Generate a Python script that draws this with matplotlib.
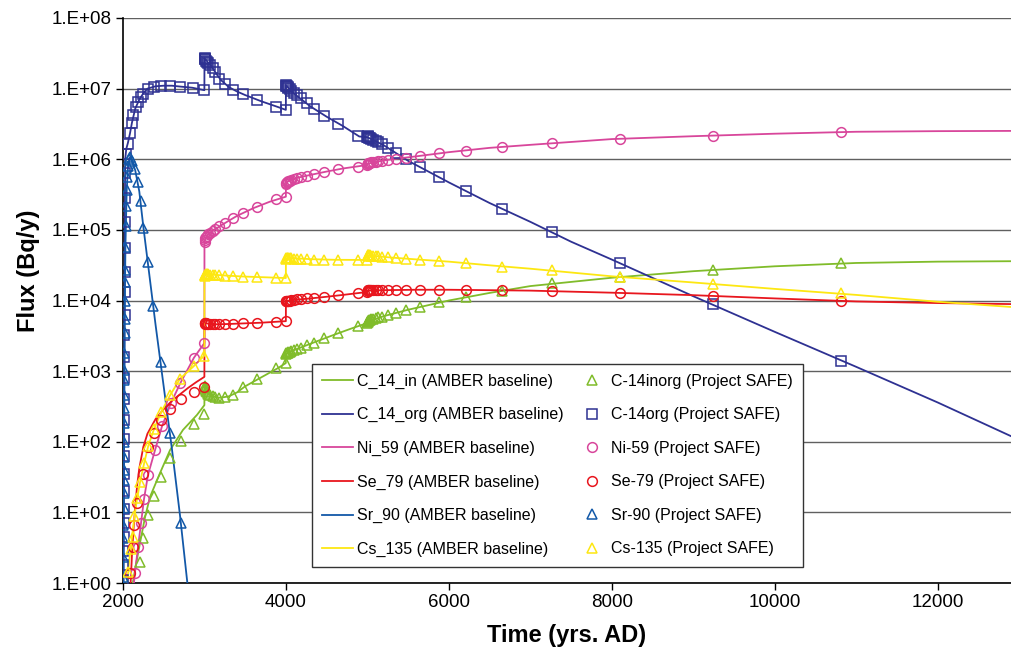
import numpy as np
import matplotlib
matplotlib.use("Agg")
import matplotlib.pyplot as plt
from matplotlib.ticker import FixedLocator, FuncFormatter, NullLocator

plt.rcParams['font.family'] = ['Liberation Sans', 'DejaVu Sans']

# ---------------------------------------------------------------------------
# AMBER baseline (continuous model output), flux in Bq/y
# ---------------------------------------------------------------------------
amb_c14in_t = [2120, 2150, 2209, 2270, 2331, 2454, 2577, 2736, 2908, 2999,
               3000, 3010, 3030, 3060, 3100, 3150, 3200, 3300, 3400, 3500, 3700, 3900, 3999,
               4000, 4100, 4200, 4400, 4600, 4800, 4999,
               5000, 5200, 5500, 6000, 6500, 7000, 8000, 9000, 10000, 11000, 12000, 12900]
amb_c14in_v = [1.0, 1.6, 3.7, 8.5, 16.5, 36, 76, 147, 240, 330,
               640, 570, 505, 465, 440, 425, 420, 440, 500, 610, 820, 1100, 1300,
               1750, 1980, 2200, 2700, 3300, 4000, 4800,
               5000, 6000, 7400, 10000, 12800, 16000, 21000, 26000, 30500, 34000, 35500, 36000]

amb_c14org_t = [2004, 2008, 2012, 2016, 2020, 2024, 2027, 2040, 2060, 2085, 2110, 2150, 2200,
                2250, 2300, 2400, 2500, 2600, 2700, 2850, 2999,
                3000, 3050, 3100, 3150, 3200, 3300, 3400, 3500, 3700, 3900, 3999,
                4000, 4050, 4100, 4200, 4300, 4500, 4700, 4900,
                5000, 5100, 5200, 5500, 6000, 6500, 7000, 7500, 8000, 9000, 10000, 11000, 12000, 12900]
amb_c14org_v = [0.5, 3, 30, 600, 1.2e4, 3e5, 1.0e6, 1.4e6, 1.7e6, 2.3e6, 3.3e6, 5.2e6, 7.0e6,
                8.6e6, 1.0e7, 1.08e7, 1.1e7, 1.1e7, 1.07e7, 1.03e7, 9.5e6,
                2.7e7, 2.3e7, 1.95e7, 1.6e7, 1.33e7, 1.05e7, 9.1e6, 8.1e6, 6.6e6, 5.5e6, 5.0e6,
                1.12e7, 9.6e6, 8.5e6, 6.9e6, 5.6e6, 4.0e6, 2.95e6, 2.1e6,
                2.05e6, 1.8e6, 1.58e6, 9.5e5, 4.7e5, 2.4e5, 1.3e5, 6.8e4, 3.8e4, 1.15e4, 3.6e3,
                1.15e3, 3.6e2, 1.2e2]

amb_ni59_t = [2120, 2147, 2184, 2221, 2258, 2307, 2393, 2479, 2589, 2705, 2871, 2999,
              3000, 3010, 3030, 3070, 3130, 3200, 3300, 3400, 3600, 3800, 3999,
              4000, 4020, 4060, 4150, 4300, 4500, 4700, 4999,
              5000, 5100, 5300, 5600, 6000, 6500, 7000, 8000, 9000, 10000, 11000, 12000, 12900]
amb_ni59_v = [0.7, 1.4, 3.2, 7, 15.5, 34, 76, 166, 355, 680, 1550, 2500,
              6.8e4, 7.5e4, 8.3e4, 9.1e4, 1.02e5, 1.15e5, 1.35e5, 1.58e5, 2.03e5, 2.5e5, 2.95e5,
              4.5e5, 4.8e5, 5.1e5, 5.5e5, 6.0e5, 6.7e5, 7.4e5, 8.3e5,
              8.6e5, 9.2e5, 1.0e6, 1.1e6, 1.26e6, 1.45e6, 1.6e6, 1.93e6, 2.12e6, 2.3e6, 2.45e6,
              2.5e6, 2.52e6]

amb_se79_t = [2090, 2110, 2130, 2150, 2175, 2200, 2250, 2300, 2400, 2500, 2600, 2700, 2800, 2900, 2999,
              3000, 3050, 3150, 3300, 3500, 3700, 3999,
              4000, 4100, 4300, 4500, 4700, 4999,
              5000, 5200, 5600, 6000, 6500, 7000, 8000, 9000, 10000, 11000, 12000, 12900]
amb_se79_v = [0.8, 2.5, 6, 12, 25, 42, 85, 130, 210, 290, 380, 470, 580, 700, 830,
              4800, 4700, 4600, 4650, 4750, 4850, 5100,
              9800, 10200, 10700, 11300, 12000, 13200,
              13800, 14000, 14200, 14200, 14000, 13800, 12900, 11900, 10700, 9700, 9200, 8900]

amb_sr90_t = [2005, 2010, 2015, 2020, 2030, 2045, 2060, 2080, 2100, 2150, 2200, 2250, 2300,
              2400, 2500, 2600, 2700, 2790, 2820]
amb_sr90_v = [1, 30, 400, 5000, 6e4, 3.5e5, 7.5e5, 1.05e6, 1.0e6, 7e5, 3.5e5, 1.1e5, 3.8e4,
              4.5e3, 600, 80, 9, 1, 0.5]

amb_cs135_t = [2050, 2070, 2100, 2130, 2170, 2210, 2260, 2310, 2380, 2470, 2580, 2700, 2870, 2999,
               3000, 3030, 3100, 3300, 3500, 3800, 3999,
               4000, 4030, 4100, 4300, 4600, 4999,
               5000, 5100, 5300, 5600, 6000, 6500, 7000, 8000, 9000, 10000, 11000, 12000, 12900]
amb_cs135_v = [0.9, 1.8, 3.5, 7, 15, 27, 50, 87, 150, 265, 460, 780, 1180, 1660,
               22500, 23500, 23200, 22400, 21800, 21200, 20800,
               38500, 40000, 39700, 38500, 37700, 37500,
               43000, 42500, 40500, 38200, 35500, 31500, 28200, 22000, 18000, 14600, 12000,
               9600, 8100]

# ---------------------------------------------------------------------------
# Project SAFE (discrete output times), flux in Bq/y
# ---------------------------------------------------------------------------
t_late = [3002, 3006, 3012, 3020, 3030, 3045, 3068, 3100, 3130, 3180, 3255, 3350, 3470, 3645, 3880, 3995,
          4002, 4006, 4012, 4020, 4030, 4045, 4068, 4100, 4130, 4180, 4255, 4350, 4470, 4645, 4880, 4995,
          5002, 5006, 5012, 5020, 5030, 5045, 5068, 5100, 5130, 5180, 5255, 5350, 5470, 5645, 5880,
          6210, 6650, 7260, 8100, 9240, 10810]

safe_c14in_t = [2209, 2245, 2307, 2380, 2466, 2577, 2712, 2871, 2995]
safe_c14in_v = [2.0, 4.4, 9.1, 17, 32, 59, 102, 178, 245,
                620, 590, 560, 530, 500, 475, 455, 440, 425, 415, 430, 460, 600, 780, 1100, 1300,
                1750, 1780, 1800, 1820, 1850, 1880, 1920, 1980, 2050, 2150, 2350, 2500, 2950, 3500, 4300, 4800,
                5000, 5100, 5200, 5250, 5300, 5400, 5500, 5600, 5800, 5900, 6300, 6600, 7400, 8100, 9600,
                11200, 13700, 17800, 21500, 27000, 34000]

safe_c14org_t = [2004, 2005, 2006, 2007, 2008, 2009, 2010, 2011, 2012, 2013, 2014, 2015, 2016, 2017,
                 2018, 2019, 2020, 2021, 2022, 2023, 2024, 2025,
                 2035, 2060, 2085, 2110, 2125, 2160, 2185, 2220, 2250, 2305, 2380, 2470, 2580, 2705, 2865, 2995]
safe_c14org_v = [1.1, 1.8, 2.8, 4.5, 7, 11, 20, 35, 63, 110, 200, 400, 800, 1600,
                 3200, 6300, 1.3e4, 2.5e4, 5.6e4, 1.3e5, 2.8e5, 6.3e5,
                 1.2e6, 1.66e6, 2.34e6, 3.3e6, 4.3e6, 5.5e6, 6.5e6, 7.6e6, 8.5e6, 1.0e7, 1.07e7, 1.1e7,
                 1.1e7, 1.07e7, 1.02e7, 9.6e6,
                 2.7e7, 2.65e7, 2.6e7, 2.5e7, 2.4e7, 2.3e7, 2.15e7, 1.95e7, 1.73e7, 1.38e7, 1.17e7, 9.6e6,
                 8.5e6, 6.9e6, 5.5e6, 5.0e6,
                 1.12e7, 1.1e7, 1.08e7, 1.05e7, 1.02e7, 9.8e6, 9.3e6, 8.7e6, 8.1e6, 7.4e6, 6.3e6, 5.1e6,
                 4.1e6, 3.2e6, 2.1e6, 2.05e6,
                 2.1e6, 2.08e6, 2.05e6, 2.02e6, 1.98e6, 1.93e6, 1.87e6, 1.8e6, 1.75e6, 1.62e6, 1.42e6,
                 1.23e6, 1.02e6, 7.8e5, 5.6e5, 3.56e5, 2.0e5, 9.3e4, 3.4e4, 9.0e3, 1.4e3]

safe_ni59_t = [2147, 2184, 2221, 2258, 2307, 2393, 2479, 2589, 2705, 2871, 2995]
safe_ni59_v = [1.4, 3.2, 7, 15.5, 34, 76, 166, 355, 680, 1550, 2500,
               6.8e4, 7.2e4, 7.6e4, 8.0e4, 8.3e4, 8.7e4, 9.1e4, 9.7e4, 1.02e5, 1.13e5, 1.25e5, 1.48e5,
               1.74e5, 2.14e5, 2.7e5, 2.95e5,
               4.5e5, 4.6e5, 4.7e5, 4.8e5, 4.9e5, 5.0e5, 5.15e5, 5.3e5, 5.45e5, 5.6e5, 5.8e5, 6.2e5,
               6.6e5, 7.3e5, 7.8e5, 8.3e5,
               8.6e5, 8.7e5, 8.8e5, 8.85e5, 8.9e5, 9.0e5, 9.1e5, 9.2e5, 9.4e5, 9.6e5, 9.9e5, 1.02e6,
               1.05e6, 1.12e6, 1.23e6, 1.32e6, 1.5e6, 1.7e6, 1.95e6, 2.15e6, 2.45e6]

safe_se79_t = [2086, 2123, 2135, 2172, 2245, 2307, 2380, 2466, 2577, 2712, 2871, 2995]
safe_se79_v = [1.4, 3.2, 6.6, 13.5, 35, 85, 133, 204, 290, 405, 510, 600,
               4700, 4800, 4800, 4750, 4700, 4700, 4650, 4600, 4600, 4600, 4650, 4700, 4750, 4800, 4950, 5100,
               9800, 10000, 10000, 10000, 10000, 10000, 10200, 10300, 10400, 10500, 10700, 11000, 11300,
               12000, 12800, 13200,
               13800, 14000, 14000, 14000, 14100, 14100, 14100, 14200, 14200, 14200, 14200, 14200, 14200,
               14200, 14200, 14200, 14000, 13700, 12800, 11700, 9800]

safe_sr90_t = [2003, 2004, 2005, 2006, 2007, 2008, 2009, 2010, 2011, 2012, 2013, 2014, 2015, 2016,
               2017, 2018, 2019, 2020, 2022, 2024, 2026, 2030, 2035, 2040, 2046, 2054, 2064, 2076,
               2090, 2110, 2147, 2184, 2221, 2245, 2307, 2368, 2466, 2577, 2712]
safe_sr90_v = [1.2, 2.3, 4.4, 6.6, 11.5, 19, 29, 40, 60, 100, 185, 300, 460, 760,
               1050, 1800, 3500, 5400, 1.0e4, 1.8e4, 2.7e4, 5.8e4, 1.15e5, 2.2e5, 3.7e5, 5.6e5, 8.1e5,
               1.0e6, 1.07e6, 9.5e5, 7.2e5, 4.8e5, 2.6e5, 1.07e5, 3.5e4, 8.3e3, 1.35e3, 132, 7.1]

safe_cs135_t = [2061, 2098, 2123, 2135, 2172, 2209, 2258, 2307, 2380, 2466, 2577, 2700, 2871, 2995]
safe_cs135_v = [1.45, 3.0, 4.5, 8.9, 16, 27, 50, 87, 150, 263, 457, 776, 1175, 1660,
                22500, 23000, 23300, 23500, 23500, 23500, 23300, 23200, 23000, 22800, 22500, 22200,
                21800, 21500, 21000, 20800,
                38500, 39500, 40000, 40000, 40000, 40000, 39500, 39000, 38800, 38500, 38200, 38000,
                37800, 37600, 37500, 37500,
                43000, 43500, 43500, 43500, 43500, 43000, 43000, 42500, 42000, 41500, 41000, 40000,
                39000, 38000, 36400, 34000, 30000, 26600, 21300, 17200, 12600]

amber_labels = ["C_14_in (AMBER baseline)", "C_14_org (AMBER baseline)", "Ni_59 (AMBER baseline)",
                "Se_79 (AMBER baseline)", "Sr_90 (AMBER baseline)", "Cs_135 (AMBER baseline)"]
safe_labels = ["C-14inorg (Project SAFE)", "C-14org (Project SAFE)", "Ni-59 (Project SAFE)",
               "Se-79 (Project SAFE)", "Sr-90 (Project SAFE)", "Cs-135 (Project SAFE)"]

y_ticks = [1e0, 1e1, 1e2, 1e3, 1e4, 1e5, 1e6, 1e7, 1e8]
x_ticks = [2000, 4000, 6000, 8000, 10000, 12000]

colors = ['#80bc2a', '#2e3192', '#d8469b', '#e8161e', '#1258a8', '#fde712']
markers = ['^', 's', 'o', 'o', '^', '^']
msizes = [7, 6.5, 7, 7, 7, 7]

amber = [(amb_c14in_t, amb_c14in_v), (amb_c14org_t, amb_c14org_v), (amb_ni59_t, amb_ni59_v),
         (amb_se79_t, amb_se79_v), (amb_sr90_t, amb_sr90_v), (amb_cs135_t, amb_cs135_v)]
safe = [(safe_c14in_t + t_late, safe_c14in_v), (safe_c14org_t + t_late, safe_c14org_v),
        (safe_ni59_t + t_late, safe_ni59_v), (safe_se79_t + t_late, safe_se79_v),
        (safe_sr90_t, safe_sr90_v), (safe_cs135_t + t_late, safe_cs135_v)]

fig = plt.figure(figsize=(10.11, 6.5), dpi=100)
ax = fig.add_axes([123 / 1011, 1 - 583 / 650, (1011 - 123) / 1011, (583 - 18) / 650])

line_handles = []
for (t, v), c, lab in zip(amber, colors, amber_labels):
    h, = ax.plot(t, v, color=c, lw=1.3, label=lab, zorder=3)
    line_handles.append(h)

marker_handles = []
for (t, v), c, m, ms, lab in zip(safe, colors, markers, msizes, safe_labels):
    h, = ax.plot(t, v, linestyle='none', marker=m, ms=ms, mfc='none', mec=c, mew=1.1,
                 label=lab, zorder=4)
    marker_handles.append(h)

ax.set_yscale('log')
ax.set_xlim(2000, 12900)
ax.set_ylim(1, 1e8)
ax.yaxis.set_major_locator(FixedLocator(y_ticks))
ax.yaxis.set_minor_locator(NullLocator())
ax.yaxis.set_major_formatter(FuncFormatter(lambda v, p: "1.E+%02d" % int(round(np.log10(v)))))
ax.xaxis.set_major_locator(FixedLocator(x_ticks))
ax.xaxis.set_major_formatter(FuncFormatter(lambda v, p: "%d" % v))

ax.grid(axis='y', color='#606060', lw=1.0, zorder=1)
ax.set_axisbelow(True)
for s in ['top', 'right']:
    ax.spines[s].set_visible(False)
for s in ['left', 'bottom']:
    ax.spines[s].set_color('black')
    ax.spines[s].set_linewidth(1.2)
ax.tick_params(axis='both', direction='out', length=5, width=1, labelsize=13.5, pad=3)

ax.set_xlabel("Time (yrs. AD)", fontsize=17, fontweight='bold')
ax.set_ylabel("Flux (Bq/y)", fontsize=17, fontweight='bold')
ax.xaxis.set_label_coords(0.5, -0.072)
ax.yaxis.set_label_coords(-0.094, 0.552)

leg = fig.legend(line_handles + marker_handles, amber_labels + safe_labels, ncol=2,
                 loc='upper left', bbox_to_anchor=(312 / 1011, 1 - 364 / 650),
                 bbox_transform=fig.transFigure, borderaxespad=0, fontsize=11.5,
                 frameon=True, fancybox=False, edgecolor='#333333', framealpha=1,
                 handlelength=1.95, handletextpad=0.25, columnspacing=0.8,
                 labelspacing=1.16, borderpad=0.6, numpoints=1)
leg.get_frame().set_linewidth(1.0)

fig.savefig("out.png", dpi=100)
